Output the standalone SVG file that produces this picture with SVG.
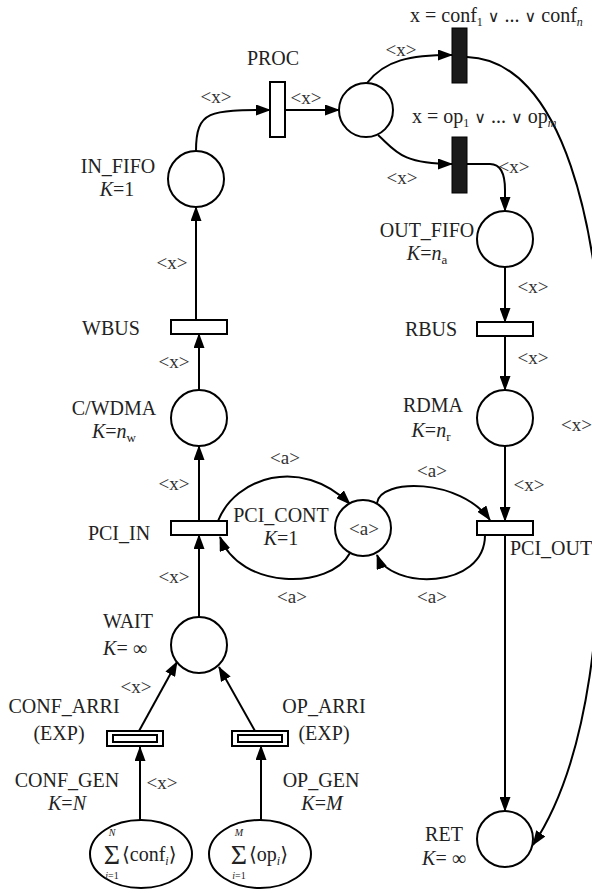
<svg xmlns="http://www.w3.org/2000/svg" width="592" height="893" viewBox="0 0 592 893">
<style>
text{font-family:"Liberation Serif","DejaVu Serif",serif;fill:#222}
.n{font-size:20px;text-anchor:middle}
.l{font-size:19px;fill:#333;text-anchor:middle}
.i{font-style:italic}
.v{font-size:16px;font-family:"DejaVu Sans",sans-serif;font-weight:normal}
.s{font-size:28px;text-anchor:middle}
.p{fill:#fff;stroke:#000;stroke-width:2}
.t{fill:#fff;stroke:#000;stroke-width:2}
.b{fill:#1a1a1a;stroke:#000;stroke-width:1}
.c{fill:none;stroke:#000;stroke-width:2}
</style>
<defs>
<marker id="ah" markerUnits="userSpaceOnUse" viewBox="0 0 15 11" refX="14" refY="5.5" markerWidth="15" markerHeight="11" orient="auto">
<path d="M0,0 L15,5.5 L0,11 z" fill="#000"/>
</marker>
</defs>

<g id="connectors" class="c" marker-end="url(#ah)">
<path d="M196,151 C196,110 210,110 270,110"/>
<path d="M285,110 L339,110"/>
<path d="M367,83 C385,60 410,55 452,55"/>
<path d="M378,135 C395,150 400,164 452,164"/>
<path d="M467,164 L490,164 C500,164 505,172 505,190 L505,211"/>
<path d="M467,57 C560,60 605,220 604,430 C603,620 590,760 533,845"/>
<path d="M196,320 L196,207"/>
<path d="M199,390 L199,334"/>
<path d="M199,521 L199,446"/>
<path d="M199,617 L199,535"/>
<path d="M505,267 L505,322"/>
<path d="M505,336 L505,390"/>
<path d="M505,446 L505,521"/>
<path d="M505,535 L505,811"/>
<path d="M218,521 C235,478 300,455 350,504"/>
<path d="M350,553 C330,590 240,590 220,537"/>
<path d="M377,503 C380,478 460,478 490,520"/>
<path d="M485,535 C485,590 390,590 377,555"/>
<path d="M140,820 L140,747"/>
<path d="M261,820 L261,746"/>
<path d="M139,731 L177,662"/>
<path d="M255,731 L219,667"/>
</g>

<g id="arc-labels">
<text class="l" x="216" y="103">&lt;x&gt;</text>
<text class="l" x="306" y="104">&lt;x&gt;</text>
<text class="l" x="401" y="56">&lt;x&gt;</text>
<text class="l" x="402" y="184">&lt;x&gt;</text>
<text class="l" x="514" y="173">&lt;x&gt;</text>
<text class="l" x="172" y="269">&lt;x&gt;</text>
<text class="l" x="174" y="368">&lt;x&gt;</text>
<text class="l" x="533" y="293">&lt;x&gt;</text>
<text class="l" x="533" y="364">&lt;x&gt;</text>
<text class="l" x="561" y="431" style="text-anchor:start">&lt;x&gt;</text>
<text class="l" x="174" y="490">&lt;x&gt;</text>
<text class="l" x="529" y="491">&lt;x&gt;</text>
<text class="l" x="174" y="583">&lt;x&gt;</text>
<text class="l" x="136" y="693">&lt;x&gt;</text>
<text class="l" x="162" y="789">&lt;x&gt;</text>
<text class="l" x="285" y="464">&lt;a&gt;</text>
<text class="l" x="432" y="477">&lt;a&gt;</text>
<text class="l" x="292" y="603">&lt;a&gt;</text>
<text class="l" x="432" y="603">&lt;a&gt;</text>
</g>

<g id="PROC">
<rect class="t" x="270" y="82" width="15" height="55"/>
<text class="n" x="273" y="65">PROC</text>
</g>
<g id="HUB">
<circle class="p" cx="366" cy="110" r="27"/>
</g>
<g id="T_CONF">
<rect class="b" x="452" y="28" width="15" height="55"/>
<text x="410" y="22" style="font-size:20px">x = conf<tspan font-size="12" dy="4">1</tspan><tspan dy="-4"> </tspan><tspan class="v">∨</tspan> ... <tspan class="v">∨</tspan> conf<tspan font-size="12" dy="4" class="i">n</tspan></text>
</g>
<g id="T_OP">
<rect class="b" x="452" y="137" width="15" height="56"/>
<text x="412" y="123" style="font-size:20px">x = op<tspan font-size="12" dy="4">1</tspan><tspan dy="-4"> </tspan><tspan class="v">∨</tspan> ... <tspan class="v">∨</tspan> op<tspan font-size="12" dy="4" class="i">m</tspan></text>
</g>
<g id="IN_FIFO">
<circle class="p" cx="196" cy="179" r="28"/>
<text class="n" x="118" y="173">IN_FIFO</text>
<text class="n" x="117" y="196"><tspan class="i">K</tspan>=1</text>
</g>
<g id="WBUS">
<rect class="t" x="171" y="320" width="56" height="14"/>
<text class="n" x="111" y="335">WBUS</text>
</g>
<g id="C_WDMA">
<circle class="p" cx="199" cy="418" r="28"/>
<text class="n" x="114" y="415">C/WDMA</text>
<text class="n" x="114" y="438"><tspan class="i">K</tspan>=<tspan class="i">n</tspan><tspan font-size="13" dy="4">w</tspan></text>
</g>
<g id="PCI_IN">
<rect class="t" x="171" y="521" width="56" height="14"/>
<text class="n" x="119" y="540">PCI_IN</text>
</g>
<g id="PCI_CONT">
<circle class="p" cx="363" cy="528" r="28"/>
<text class="l" x="364" y="535">&lt;a&gt;</text>
<text class="n" x="281" y="522">PCI_CONT</text>
<text class="n" x="281" y="545"><tspan class="i">K</tspan>=1</text>
</g>
<g id="OUT_FIFO">
<circle class="p" cx="505" cy="239" r="28"/>
<text class="n" x="427" y="237">OUT_FIFO</text>
<text class="n" x="427" y="260"><tspan class="i">K</tspan>=<tspan class="i">n</tspan><tspan font-size="13" dy="4">a</tspan></text>
</g>
<g id="RBUS">
<rect class="t" x="477" y="322" width="56" height="14"/>
<text class="n" x="431" y="336">RBUS</text>
</g>
<g id="RDMA">
<circle class="p" cx="505" cy="418" r="28"/>
<text class="n" x="433" y="412">RDMA</text>
<text class="n" x="431" y="437"><tspan class="i">K</tspan>=<tspan class="i">n</tspan><tspan font-size="13" dy="4">r</tspan></text>
</g>
<g id="PCI_OUT">
<rect class="t" x="477" y="521" width="56" height="14"/>
<text x="510" y="555" style="font-size:20px">PCI_OUT</text>
</g>
<g id="WAIT">
<circle class="p" cx="199" cy="645" r="28"/>
<text class="n" x="128" y="628">WAIT</text>
<text class="n" x="125" y="655"><tspan class="i">K</tspan>= ∞</text>
</g>
<g id="CONF_ARRI">
<rect class="t" x="107" y="731" width="56" height="15"/>
<rect class="t" x="113" y="735" width="44" height="7"/>
<text class="n" x="64" y="713">CONF_ARRI</text>
<text class="n" x="59" y="740">(EXP)</text>
</g>
<g id="OP_ARRI">
<rect class="t" x="232" y="731" width="56" height="15"/>
<rect class="t" x="238" y="735" width="44" height="7"/>
<text class="n" x="324" y="713">OP_ARRI</text>
<text class="n" x="324" y="740">(EXP)</text>
</g>
<g id="CONF_GEN">
<ellipse class="p" cx="141" cy="854" rx="51" ry="34"/>
<text class="n" x="67" y="787">CONF_GEN</text>
<text class="n" x="67" y="810"><tspan class="i">K</tspan>=<tspan class="i">N</tspan></text>
<text class="s" x="112" y="864">Σ</text>
<text x="112" y="836" class="i" style="font-size:10px;text-anchor:middle">N</text>
<text x="112" y="879" style="font-size:10px;text-anchor:middle"><tspan class="i">i</tspan>=1</text>
<text x="122" y="861" style="font-size:20px">⟨conf<tspan font-size="12" dy="4" class="i">i</tspan><tspan dy="-4">⟩</tspan></text>
</g>
<g id="OP_GEN">
<ellipse class="p" cx="260" cy="854" rx="51" ry="34"/>
<text class="n" x="321" y="787">OP_GEN</text>
<text class="n" x="322" y="810"><tspan class="i">K</tspan>=<tspan class="i">M</tspan></text>
<text class="s" x="239" y="864">Σ</text>
<text x="239" y="836" class="i" style="font-size:10px;text-anchor:middle">M</text>
<text x="239" y="879" style="font-size:10px;text-anchor:middle"><tspan class="i">i</tspan>=1</text>
<text x="249" y="861" style="font-size:20px">⟨op<tspan font-size="12" dy="4" class="i">i</tspan><tspan dy="-4">⟩</tspan></text>
</g>
<g id="RET">
<circle class="p" cx="505" cy="839" r="28"/>
<text class="n" x="444" y="841">RET</text>
<text class="n" x="444" y="865"><tspan class="i">K</tspan>= ∞</text>
</g>
</svg>
